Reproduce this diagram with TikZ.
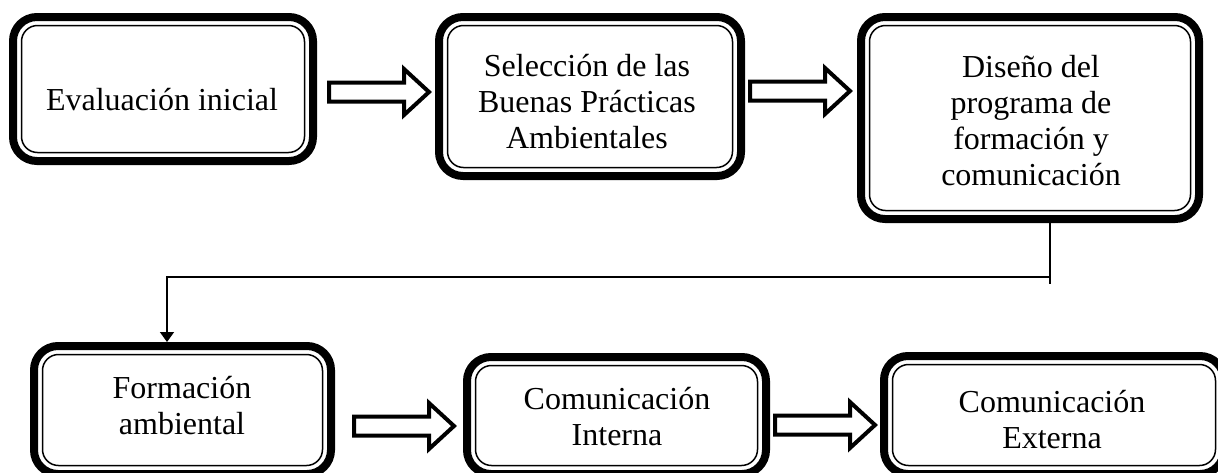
\documentclass[tikz,border=0pt]{standalone}
\usepackage{fontspec}
\setmainfont{Liberation Serif}
\usetikzlibrary{calc,arrows.meta}
\newcommand\innerframe[1]{\draw[boxinner] ($(#1.south west)+(8.5pt,8.5pt)$) rectangle ($(#1.north east)-(8.5pt,8.5pt)$);}
\begin{document}
\begin{tikzpicture}[x=1pt,y=1pt,
  boxouter/.style={draw, line width=8pt, rounded corners=24pt, inner sep=0pt, outer sep=0pt},
  boxinner/.style={draw, line width=1.5pt, rounded corners=16pt},
  boxtext/.style={font=\fontsize{32}{36}\selectfont, align=center, inner sep=0pt},
  blockarrow/.style={draw, line width=4pt, fill=white, miter limit=10},
  link/.style={line width=1.6pt},
  barrow/.pic={\draw[blockarrow] (-51,9.5) -- (24,9.5) -- (24,23) -- (49,0) -- (24,-23) -- (24,-9.5) -- (-51,-9.5) -- cycle;}
]
\useasboundingbox (0,0) rectangle (1218,-472);
% boxes
\node[boxouter, minimum width=300pt, minimum height=144pt] (b1) at (163,-89) {};
\node[boxouter, minimum width=302pt, minimum height=159pt] (b2) at (590,-96.5) {};
\node[boxouter, minimum width=338pt, minimum height=202pt] (b3) at (1030,-118) {};
\node[boxouter, minimum width=297pt, minimum height=128pt] (b4) at (182.5,-410) {};
\node[boxouter, minimum width=299pt, minimum height=117pt] (b5) at (616.5,-415.5) {};
\node[boxouter, minimum width=340pt, minimum height=118pt] (b6) at (1054,-415) {};
\innerframe{b1}
\innerframe{b2}
\innerframe{b3}
\innerframe{b4}
\innerframe{b5}
\innerframe{b6}
% texts
\node[boxtext] (l1) at (162,-100) {Evaluación inicial};
\node[boxtext] (l2) at (587,-102) {Selección de las\\Buenas Prácticas\\Ambientales};
\node[boxtext] (l3) at (1031,-121) {Diseño del\\programa de\\formación y\\comunicación};
\node[boxtext] (l4) at (182,-406) {Formación\\ambiental};
\node[boxtext] (l5) at (617,-417) {Comunicación\\Interna};
\node[boxtext] (l6) at (1052,-420) {Comunicación\\Externa};
% block arrows
\coordinate (a1) at (380,-92);
\coordinate (a2) at (801,-91);
\coordinate (a3) at (405,-426);
\coordinate (a4) at (826,-425);
\pic at (a1) {barrow};
\pic at (a2) {barrow};
\pic at (a3) {barrow};
\pic at (a4) {barrow};
% connector
\coordinate (j1) at (1050,-277);
\coordinate (j2) at (1050,-284);
\coordinate (t4in) at (167,-342);
\draw[link] (b3.south -| j1) -- (j2);
\draw[link, -{Triangle[length=10pt,width=14pt]}] (j1) -| (t4in);
\end{tikzpicture}
\end{document}
